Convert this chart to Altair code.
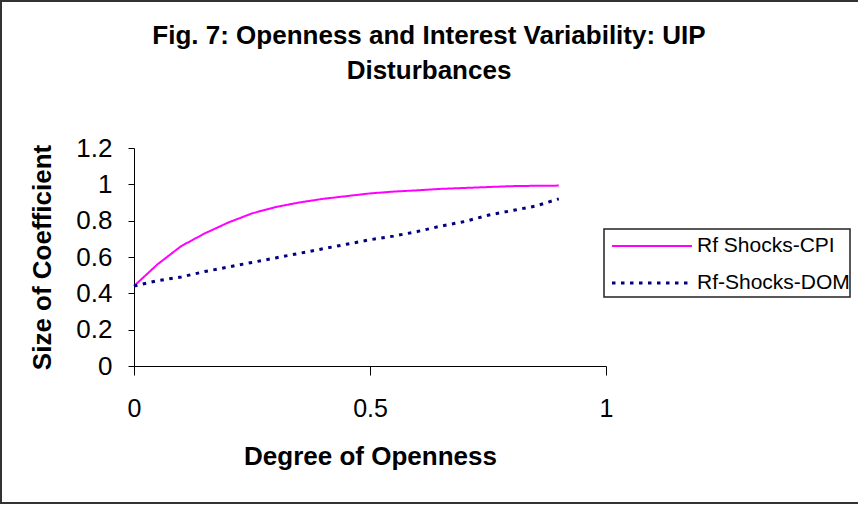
import altair as alt
import pandas as pd

openness = [0, 0.05, 0.1, 0.15, 0.2, 0.25, 0.3, 0.35, 0.4, 0.45, 0.5,
            0.55, 0.6, 0.65, 0.7, 0.75, 0.8, 0.85, 0.9]
cpi = [0.44, 0.56, 0.66, 0.73, 0.79, 0.84, 0.875, 0.90, 0.92, 0.935, 0.95,
       0.96, 0.967, 0.975, 0.98, 0.985, 0.99, 0.992, 0.993]
dom = [0.44, 0.47, 0.49, 0.52, 0.545, 0.57, 0.595, 0.62, 0.645, 0.67, 0.695,
       0.715, 0.74, 0.77, 0.795, 0.83, 0.855, 0.88, 0.92]
series_names = ["Rf Shocks-CPI", "Rf-Shocks-DOM"]
series_colors = ["#FF00FF", "#000080"]
series_dash = [[1, 0], [3.5, 5.5]]
series_width = [2, 3]
x_ticks = [0, 0.5, 1]
y_ticks = [0, 0.2, 0.4, 0.6, 0.8, 1, 1.2]

rows = []
for x, v in zip(openness, cpi):
    rows.append({"x": x, "y": v, "s": series_names[0]})
for x, v in zip(openness, dom):
    rows.append({"x": x, "y": v, "s": series_names[1]})
df = pd.DataFrame(rows)

FONT = "Liberation Sans"

lines = alt.Chart(df).mark_line().encode(
    x=alt.X("x:Q", scale=alt.Scale(domain=[0, 1], nice=False),
            axis=alt.Axis(values=x_ticks, format="~g", title="Degree of Openness",
                          labelFontSize=25, labelPadding=21, tickSize=9,
                          labelFlush=False,
                          titleFontSize=26, titlePadding=22)),
    y=alt.Y("y:Q", scale=alt.Scale(domain=[0, 1.2], nice=False),
            axis=alt.Axis(values=y_ticks, format="~g", title="Size of Coefficient",
                          labelFontSize=26, labelPadding=16, tickSize=6,
                          labelFlush=False,
                          titleFontSize=26, titlePadding=20)),
    color=alt.Color("s:N", scale=alt.Scale(domain=series_names, range=series_colors),
                    legend=None),
    strokeDash=alt.StrokeDash("s:N", scale=alt.Scale(domain=series_names,
                                                     range=series_dash),
                              legend=None),
    strokeWidth=alt.StrokeWidth("s:N", scale=alt.Scale(domain=series_names,
                                                       range=series_width),
                                legend=None),
)

border = alt.Chart(alt.Data(values=[{"a": 1}])).mark_rect(
    filled=False, stroke="#333333", strokeWidth=2
).encode(
    x=alt.value(-133), x2=alt.value(740), y=alt.value(-147), y2=alt.value(355)
)

# legend (drawn as decoration, positioned in pixels relative to the plot area)
legend_box = alt.Chart(alt.Data(values=[{"a": 1}])).mark_rect(
    fill="white", stroke="#222222", strokeWidth=1.5
).encode(
    x=alt.value(470), x2=alt.value(716), y=alt.value(81), y2=alt.value(149)
)

legend_layers = [legend_box]
for i, name in enumerate(series_names):
    ypos = 98 + 37 * i
    legend_layers.append(
        alt.Chart(alt.Data(values=[{"label": name}])).mark_rule(
            stroke=series_colors[i], strokeWidth=series_width[i],
            strokeDash=series_dash[i]
        ).encode(x=alt.value(478), x2=alt.value(558), y=alt.value(ypos))
    )
    legend_layers.append(
        alt.Chart(alt.Data(values=[{"label": name}])).mark_text(
            align="left", baseline="middle", fontSize=21, font=FONT, color="black"
        ).encode(x=alt.value(563), y=alt.value(ypos), text="label:N")
    )

chart = alt.layer(border, lines, *legend_layers).properties(
    width=472, height=218,
    title=alt.TitleParams(
        ["Fig. 7: Openness and Interest Variability: UIP", "Disturbances"],
        fontSize=26, font=FONT, fontWeight="bold", anchor="middle",
        lineHeight=35, dx=59, offset=-84, color="black"),
    padding={"left": 134, "top": 148, "right": 252, "bottom": 141},
    autosize=alt.AutoSizeParams(type="none"),
).configure(
    font=FONT, background="white"
).configure_view(
    stroke=None
).configure_axis(
    grid=False, domainColor="black", tickColor="black", labelColor="black",
    titleColor="black", labelFont=FONT, titleFont=FONT, titleFontWeight="bold",
    domainWidth=1, tickWidth=1
)

chart.save("out.html", embed_options={"renderer": "svg", "actions": False})
